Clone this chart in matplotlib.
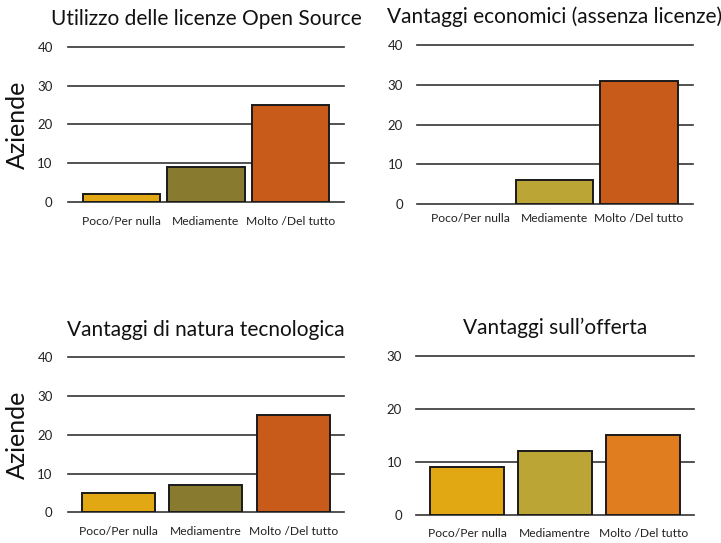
import matplotlib
matplotlib.use("Agg")
import matplotlib.pyplot as plt

plt.rcParams['font.family'] = ['Lato', 'DejaVu Sans']

categories_a = ["Poco/Per nulla", "Mediamente", "Molto /Del tutto"]
categories_b = ["Poco/Per nulla", "Mediamentre", "Molto /Del tutto"]

titles = ["Utilizzo delle licenze Open Source",
          "Vantaggi economici (assenza licenze)",
          "Vantaggi di natura tecnologica",
          "Vantaggi sull\u2019offerta"]

utilizzo = [2, 9, 25]
economici = [0, 6, 31]
tecnologici = [5, 7, 25]
offerta = [9, 12, 15]

yticks_40 = [0, 10, 20, 30, 40]
yticks_30 = [0, 10, 20, 30]

GOLD = '#E2A814'
OLIVE_D = '#887A2F'
OLIVE_L = '#BAA535'
RUST = '#C85B1A'
ORANGE = '#E07D1F'

panels = [
    dict(pos=[0.0943, 0.628, 0.3828, 0.2855], cats=categories_a, vals=utilizzo,
         title=titles[0], colors=[GOLD, OLIVE_D, RUST], yt=yticks_40,
         xlim=(-0.633, 2.633), w=0.92, ylabel=True, xpad=10, ypad=11),
    dict(pos=[0.578, 0.6238, 0.3828, 0.2933], cats=categories_a, vals=economici,
         title=titles[1], colors=[GOLD, OLIVE_L, RUST], yt=yticks_40,
         xlim=(-0.63, 2.635), w=0.92, ylabel=False, xpad=6.5, ypad=10),
    dict(pos=[0.0943, 0.0565, 0.3828, 0.2855], cats=categories_b, vals=tecnologici,
         title=titles[2], colors=[GOLD, OLIVE_D, RUST], yt=yticks_40,
         xlim=(-0.577, 2.577), w=0.834, ylabel=True, xpad=9.5, ypad=11),
    dict(pos=[0.577, 0.0516, 0.386, 0.2928], cats=categories_b, vals=offerta,
         title=titles[3], colors=[GOLD, OLIVE_L, ORANGE], yt=yticks_30,
         xlim=(-0.58, 2.58), w=0.84, ylabel=False, xpad=9.5, ypad=10),
]

fig = plt.figure(figsize=(7.21, 5.43), dpi=100)

for p in panels:
    ax = fig.add_axes(p['pos'])
    x = list(range(len(p['cats'])))
    for yv in p['yt']:
        ax.axhline(yv, color='#333333', lw=1.2, zorder=1, clip_on=False)
    lws = [1.4 if v > 0 else 0 for v in p['vals']]
    ax.bar(x, p['vals'], width=p['w'], color=p['colors'],
           edgecolor='#1a1a1a', linewidth=lws, zorder=3)
    ax.set_xlim(*p['xlim'])
    ax.set_ylim(p['yt'][0], p['yt'][-1])
    ax.set_xticks(x)
    ax.set_xticklabels(p['cats'], fontsize=8.7, color='#222222')
    ax.set_yticks(p['yt'])
    ax.set_yticklabels([str(v) for v in p['yt']], fontsize=9.5, color='#222222')
    ax.tick_params(axis='both', length=0)
    ax.tick_params(axis='x', pad=p['xpad'])
    ax.tick_params(axis='y', pad=p['ypad'])
    for s in ax.spines.values():
        s.set_visible(False)
    ax.set_title(p['title'], fontsize=15, pad=15.5, color='#111111')
    if p['ylabel']:
        b = p['pos']
        fig.text(0.024, b[1] + b[3] / 2, 'Aziende', rotation=90,
                 ha='center', va='center', fontsize=18, color='#111111')

fig.savefig('out.png', dpi=100)
